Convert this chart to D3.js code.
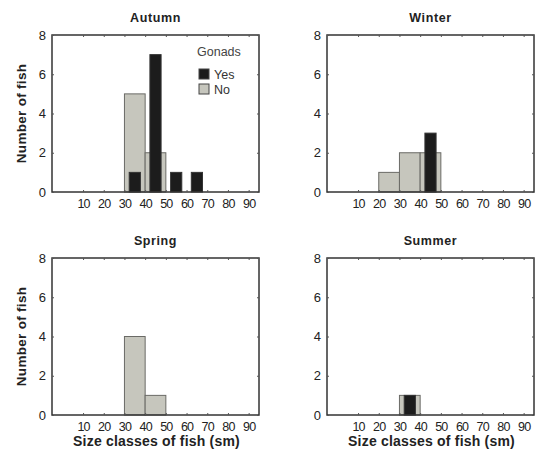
<!DOCTYPE html>
<html>
<head>
<meta charset="utf-8">
<script src="https://cdn.jsdelivr.net/npm/d3@7"></script>
<style>
  body { margin: 0; background: #fff; }
  text { font-family: "Liberation Sans", Arial, sans-serif; fill: #222; }
</style>
</head>
<body>
<script>
var width = 539;
var height = 455;

// size classes (lower bound of each 10 sm bin)
var binStarts = [0, 10, 20, 30, 40, 50, 60, 70, 80];
var xTicks = [10, 20, 30, 40, 50, 60, 70, 80, 90];
var yTicks = [0, 2, 4, 6, 8];

var seasons = ['Autumn', 'Winter', 'Spring', 'Summer'];

// number of fish per size class, gonads no / yes
var autumnNo  = [0, 0, 0, 5, 2, 0, 0, 0, 0];
var autumnYes = [0, 0, 0, 1, 7, 1, 1, 0, 0];
var winterNo  = [0, 0, 1, 2, 2, 0, 0, 0, 0];
var winterYes = [0, 0, 0, 0, 3, 0, 0, 0, 0];
var springNo  = [0, 0, 0, 4, 1, 0, 0, 0, 0];
var springYes = [0, 0, 0, 0, 0, 0, 0, 0, 0];
var summerNo  = [0, 0, 0, 1, 0, 0, 0, 0, 0];
var summerYes = [0, 0, 0, 1, 0, 0, 0, 0, 0];

var noSeries = [autumnNo, winterNo, springNo, summerNo];
var yesSeries = [autumnYes, winterYes, springYes, summerYes];

var svg = d3.select('body').append('svg')
  .attr('width', width)
  .attr('height', height);

svg.append('rect')
  .attr('width', width)
  .attr('height', height)
  .style('fill', '#fff');

var panels = [
  {left: 52, top: 35},
  {left: 327, top: 35},
  {left: 52, top: 258},
  {left: 327, top: 258}
];
var pw = 207, ph = 157;

panels.forEach(function(p, i) {
  var g = svg.append('g').attr('transform', 'translate(' + p.left + ',' + p.top + ')');
  var x = d3.scaleLinear().domain([-5, 95]).range([0, pw]);
  var y = d3.scaleLinear().domain([0, 8]).range([ph, 0]);

  var noData = binStarts.map(function(b, j) { return {bin: b, v: noSeries[i][j]}; })
    .filter(function(d) { return d.v > 0; });
  var yesData = binStarts.map(function(b, j) { return {bin: b, v: yesSeries[i][j]}; })
    .filter(function(d) { return d.v > 0; });

  // "No" bars, full bin width
  g.selectAll('rect.no').data(noData).enter().append('rect')
    .attr('class', 'no')
    .attr('x', function(d) { return x(d.bin); })
    .attr('y', function(d) { return y(d.v); })
    .attr('width', function(d) { return x(d.bin + 10) - x(d.bin); })
    .attr('height', function(d) { return y(0) - y(d.v); })
    .style('fill', '#c6c6bd')
    .style('stroke', '#6a6a66')
    .style('stroke-width', 1);

  // "Yes" bars, narrower, on top
  g.selectAll('rect.yes').data(yesData).enter().append('rect')
    .attr('class', 'yes')
    .attr('x', function(d) { return x(d.bin + 2.3); })
    .attr('y', function(d) { return y(d.v); })
    .attr('width', function(d) { return x(d.bin + 7.7) - x(d.bin + 2.3); })
    .attr('height', function(d) { return y(0) - y(d.v); })
    .style('fill', '#1c1c1c')
    .style('stroke', '#333')
    .style('stroke-width', 1);

  // frame
  g.append('rect')
    .attr('width', pw)
    .attr('height', ph)
    .style('fill', 'none')
    .style('stroke', '#333')
    .style('stroke-width', 1.5);

  // axes
  var xAxis = g.append('g').attr('transform', 'translate(0,' + ph + ')')
    .call(d3.axisBottom(x).tickValues(xTicks).tickSize(-2).tickPadding(7));
  var xTop = g.append('g')
    .call(d3.axisTop(x).tickValues(xTicks).tickSize(-2).tickFormat(''));
  var yAxis = g.append('g')
    .call(d3.axisLeft(y).tickValues(yTicks).tickSize(-2).tickPadding(6));
  var yRight = g.append('g').attr('transform', 'translate(' + pw + ',0)')
    .call(d3.axisRight(y).tickValues(yTicks).tickSize(-2).tickFormat(''));

  [xAxis, xTop, yAxis, yRight].forEach(function(a) {
    a.select('.domain').remove();
    a.selectAll('.tick line').style('stroke', '#555');
  });
  xAxis.selectAll('text')
    .style('font-size', '12.5px')
    .style('letter-spacing', '-0.8px')
    .style('fill', '#222');
  yAxis.selectAll('text')
    .style('font-size', '13px')
    .style('fill', '#222');

  // title
  g.append('text')
    .attr('x', pw / 2)
    .attr('y', -13)
    .attr('text-anchor', 'middle')
    .style('font-size', '12.5px')
    .style('font-weight', 'bold')
    .style('letter-spacing', '0.6px')
    .text(seasons[i]);

  if (i % 2 === 0) {
    g.append('text')
      .attr('transform', 'translate(-26,' + (ph / 2) + ') rotate(-90)')
      .attr('text-anchor', 'middle')
      .style('font-size', '13.5px')
      .style('font-weight', 'bold')
      .style('letter-spacing', '0.3px')
      .text('Number of fish');
  }
  if (i >= 2) {
    g.append('text')
      .attr('x', pw / 2 + 1)
      .attr('y', ph + 31)
      .attr('text-anchor', 'middle')
      .style('font-size', '14px')
      .style('font-weight', 'bold')
      .style('letter-spacing', '0.2px')
      .text('Size classes of fish (sm)');
  }

  if (i === 0) {
    var lg = g.append('g').attr('transform', 'translate(145,0)');
    lg.append('text')
      .attr('x', 0).attr('y', 21)
      .style('font-size', '12.5px')
      .style('fill', '#444')
      .text('Gonads');
    var legendItems = [
      {label: 'Yes', fill: '#1c1c1c'},
      {label: 'No', fill: '#c6c6bd'}
    ];
    legendItems.forEach(function(item, k) {
      lg.append('rect')
        .attr('x', 2).attr('y', 34 + k * 15)
        .attr('width', 10).attr('height', 10)
        .style('fill', item.fill)
        .style('stroke', '#444');
      lg.append('text')
        .attr('x', 17).attr('y', 44 + k * 15)
        .style('font-size', '12.5px')
        .style('fill', '#333')
        .text(item.label);
    });
  }
});
</script>
</body>
</html>
